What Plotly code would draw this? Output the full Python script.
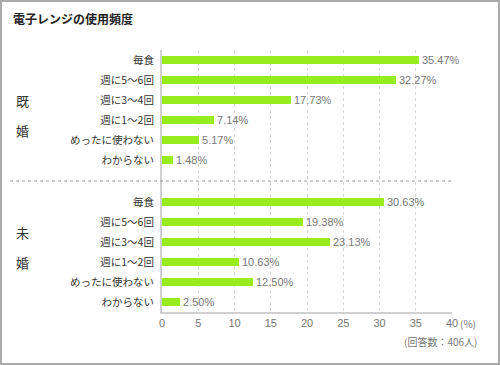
import plotly.graph_objects as go

categories = ["毎食", "週に5〜6回", "週に3〜4回", "週に1〜2回", "めったに使わない", "わからない"]
married = [35.47, 32.27, 17.73, 7.14, 5.17, 1.48]
unmarried = [30.63, 19.38, 23.13, 10.63, 12.50, 2.50]
x_ticks = [0, 5, 10, 15, 20, 25, 30, 35, 40]

W, H = 500, 365
ML, MR, MT, MB = 162, 48, 50, 53
PW, PH = W - ML - MR, H - MT - MB

pos_m = [i for i in range(len(categories))]
pos_u = [i + 7.1 for i in range(len(categories))]
sep = (pos_m[-1] + pos_u[0]) / 2

FONT = "Noto Sans CJK JP"
GREEN = "#96ec1c"

fig = go.Figure()
for vals, pos in ((married, pos_m), (unmarried, pos_u)):
    fig.add_trace(go.Bar(
        x=vals, y=pos, orientation="h", width=0.4,
        marker=dict(color=GREEN, line=dict(width=0)),
        text=[f"{v:.2f}%" for v in vals], textposition="outside", constraintext="none",
        textfont=dict(color="#777", size=11, family="Liberation Sans"),
        cliponaxis=False, hoverinfo="skip", showlegend=False,
    ))

def px(x):
    return (x - ML) / PW

def py(y):
    return (H - MB - y) / PH

annotations = [
    dict(text="<b>電子レンジの使用頻度</b>", x=px(11), y=py(18), xref="paper", yref="paper",
         xanchor="left", yanchor="middle", showarrow=False, font=dict(size=12, color="#222", family=FONT)),
    dict(text="既", x=px(22), y=2, xref="paper", yref="y", xanchor="center", yanchor="middle",
         showarrow=False, font=dict(size=13, color="#333", family=FONT)),
    dict(text="婚", x=px(22), y=3.5, xref="paper", yref="y", xanchor="center", yanchor="middle",
         showarrow=False, font=dict(size=13, color="#333", family=FONT)),
    dict(text="未", x=px(22), y=pos_u[0] + 1.5, xref="paper", yref="y", xanchor="center", yanchor="middle",
         showarrow=False, font=dict(size=13, color="#333", family=FONT)),
    dict(text="婚", x=px(22), y=pos_u[0] + 3.0, xref="paper", yref="y", xanchor="center", yanchor="middle",
         showarrow=False, font=dict(size=13, color="#333", family=FONT)),
    dict(text="(%)", x=px(478), y=py(323), xref="paper", yref="paper", xanchor="right", yanchor="middle",
         showarrow=False, font=dict(size=10, color="#777", family=FONT)),
    dict(text="(回答数：406人)", x=px(479), y=py(341), xref="paper", yref="paper", xanchor="right",
         yanchor="middle", showarrow=False, font=dict(size=10, color="#777", family=FONT)),
]

shapes = [
    dict(type="line", xref="paper", yref="y", x0=px(10), x1=1, y0=sep, y1=sep,
         line=dict(color="#999", width=1, dash="dot")),
    dict(type="rect", xref="paper", yref="paper", x0=px(1), x1=px(W - 1), y0=py(H - 1), y1=py(1),
         line=dict(color="#aaa", width=2), fillcolor="rgba(0,0,0,0)"),
]

fig.update_layout(
    width=W, height=H, margin=dict(l=ML, r=MR, t=MT, b=MB),
    paper_bgcolor="white", plot_bgcolor="white",
    font=dict(family=FONT, color="#444"),
    xaxis=dict(range=[0, 40], tickvals=x_ticks, showgrid=True, gridcolor="#d8d8d8", griddash="dot",
               gridwidth=1, zeroline=False, showline=True, linecolor="#d0d0d0", linewidth=2,
               tickfont=dict(size=11, color="#777", family="Liberation Sans"), ticks="", fixedrange=True),
    yaxis=dict(range=[pos_u[-1] + 0.5, -0.5], tickvals=pos_m + pos_u, ticktext=categories + categories,
               showgrid=False, zeroline=False, showline=True, linecolor="#d0d0d0", linewidth=2,
               tickfont=dict(size=10.5, color="#333", family=FONT), ticks="", ticklabelstandoff=4,
               fixedrange=True),
    annotations=annotations, shapes=shapes, bargap=0,
)

fig.write_html("out.html", config={"displayModeBar": False},
               post_script="document.body.style.margin='0';document.body.style.padding='0';")
